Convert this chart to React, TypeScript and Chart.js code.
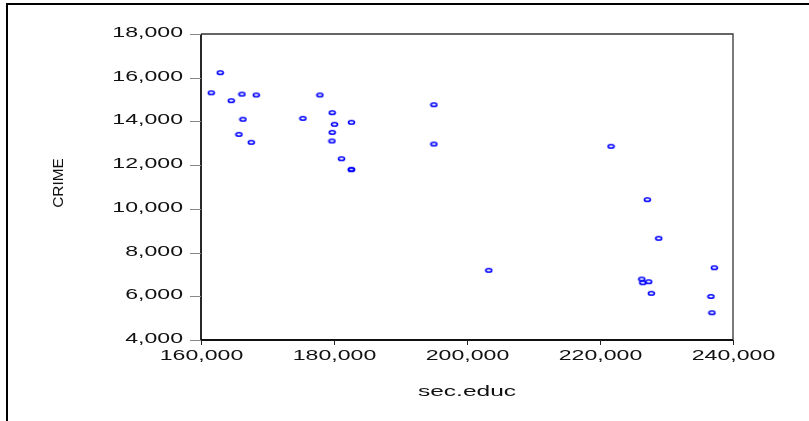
import React, { useEffect, useRef } from "react";
import { Chart, registerables } from "chart.js";

Chart.register(...registerables);

const secEduc = [
  162900, 161550, 164550, 166160, 168310, 166310, 165710, 167560, 175330, 177880,
  179730, 180080, 182630, 179730, 179690, 181130, 182630, 182600, 195020, 195020,
  221660, 227120, 228830, 203280, 237190, 226280, 226430, 227330, 227720, 236690,
  236840,
];
const crime = [
  16230, 15310, 14950, 15250, 15210, 14100, 13410, 13045, 14140, 15210,
  14400, 13870, 13960, 13500, 13105, 12295, 11810, 11790, 14765, 12967,
  12862, 10420, 8653, 7190, 7308, 6790, 6622, 6667, 6137, 5995,
  5247,
];
const xTicks = [160000, 180000, 200000, 220000, 240000];
const yTicks = [4000, 6000, 8000, 10000, 12000, 14000, 16000, 18000];
const xTitle = "sec.educ";
const yTitle = "CRIME";

function makeMarker(): HTMLCanvasElement {
  const c = document.createElement("canvas");
  c.width = 9;
  c.height = 7;
  const g = c.getContext("2d")!;
  g.strokeStyle = "#0000ff";
  g.lineWidth = 1.6;
  g.beginPath();
  g.ellipse(4.5, 3.5, 3, 1.8, 0, 0, Math.PI * 2);
  g.stroke();
  return c;
}

const fmt = (v: number) => v.toLocaleString("en-US");

function drawStretched(ctx: CanvasRenderingContext2D, text: string, x: number, y: number, align: CanvasTextAlign, sx: number) {
  ctx.save();
  ctx.translate(x, y);
  ctx.scale(sx, 1);
  ctx.textAlign = align;
  ctx.textBaseline = "middle";
  ctx.fillText(text, 0, 0);
  ctx.restore();
}

const framePlugin = {
  id: "framePlugin",
  afterDraw(chart: any) {
    const ctx: CanvasRenderingContext2D = chart.ctx;
    const ca = chart.chartArea;
    const xs = chart.scales.x;
    const ys = chart.scales.y;
    ctx.save();
    // outer frame
    ctx.fillStyle = "#000";
    ctx.fillRect(6, 3, 803, 2);
    ctx.fillRect(6, 3, 2, 418);
    // plot box top/right
    ctx.strokeStyle = "#333";
    ctx.lineWidth = 1.3;
    ctx.beginPath();
    ctx.moveTo(ca.left, ca.top);
    ctx.lineTo(ca.right, ca.top);
    ctx.lineTo(ca.right, ca.bottom);
    ctx.stroke();
    // left/bottom
    ctx.strokeStyle = "#111";
    ctx.lineWidth = 1.8;
    ctx.beginPath();
    ctx.moveTo(ca.left, ca.top);
    ctx.lineTo(ca.left, ca.bottom);
    ctx.lineTo(ca.right, ca.bottom);
    ctx.stroke();
    // y ticks
    ctx.font = "14px 'Liberation Sans', Arial, sans-serif";
    ctx.fillStyle = "#111";
    for (const v of yTicks) {
      const y = Math.round(ys.getPixelForValue(v)) + 0.5;
      ctx.strokeStyle = "#888";
      ctx.lineWidth = 1;
      ctx.beginPath();
      ctx.moveTo(ca.left - 11, y);
      ctx.lineTo(ca.left, y);
      ctx.stroke();
      drawStretched(ctx, fmt(v), ca.left - 18, y - 1, "right", 1.65);
    }
    // x ticks
    for (const v of xTicks) {
      const x = Math.round(xs.getPixelForValue(v)) + 0.5;
      ctx.strokeStyle = "#222";
      ctx.lineWidth = 1;
      ctx.beginPath();
      ctx.moveTo(x, ca.bottom);
      ctx.lineTo(x, ca.bottom + 5);
      ctx.stroke();
      drawStretched(ctx, fmt(v), x, ca.bottom + 16, "center", 1.65);
    }
    // titles
    drawStretched(ctx, xTitle, (ca.left + ca.right) / 2, ca.bottom + 52, "center", 1.75);
    ctx.save();
    ctx.translate(59, (ca.top + ca.bottom) / 2 - 4);
    ctx.rotate(-Math.PI / 2);
    ctx.scale(1.1, 1.0);
    ctx.font = "14px 'Liberation Sans', Arial, sans-serif";
    ctx.textAlign = "center";
    ctx.textBaseline = "middle";
    ctx.fillText(yTitle, 0, 0);
    ctx.restore();
    ctx.restore();
  },
};

export default function App() {
  const ref = useRef<HTMLCanvasElement | null>(null);
  useEffect(() => {
    if (!ref.current) return;
    const marker = makeMarker();
    const chart = new Chart(ref.current, {
      type: "scatter",
      data: {
        datasets: [
          {
            data: secEduc.map((x, i) => ({ x, y: crime[i] })),
            pointStyle: marker as any,
            pointRadius: 4,
          },
        ],
      },
      options: {
        animation: false,
        responsive: false,
        devicePixelRatio: 1,
        layout: { padding: { left: 201, top: 34, right: 76, bottom: 81 } },
        plugins: { legend: { display: false }, tooltip: { enabled: false } },
        scales: {
          x: { type: "linear", display: false, min: 160000, max: 240000 },
          y: { type: "linear", display: false, min: 4000, max: 18000 },
        },
      },
      plugins: [framePlugin],
    });
    return () => chart.destroy();
  }, []);
  return (
    <div style={{ position: "fixed", left: 0, top: 0, width: 809, height: 421, background: "#fff" }}>
      <canvas ref={ref} width={809} height={421} style={{ display: "block" }} />
    </div>
  );
}
